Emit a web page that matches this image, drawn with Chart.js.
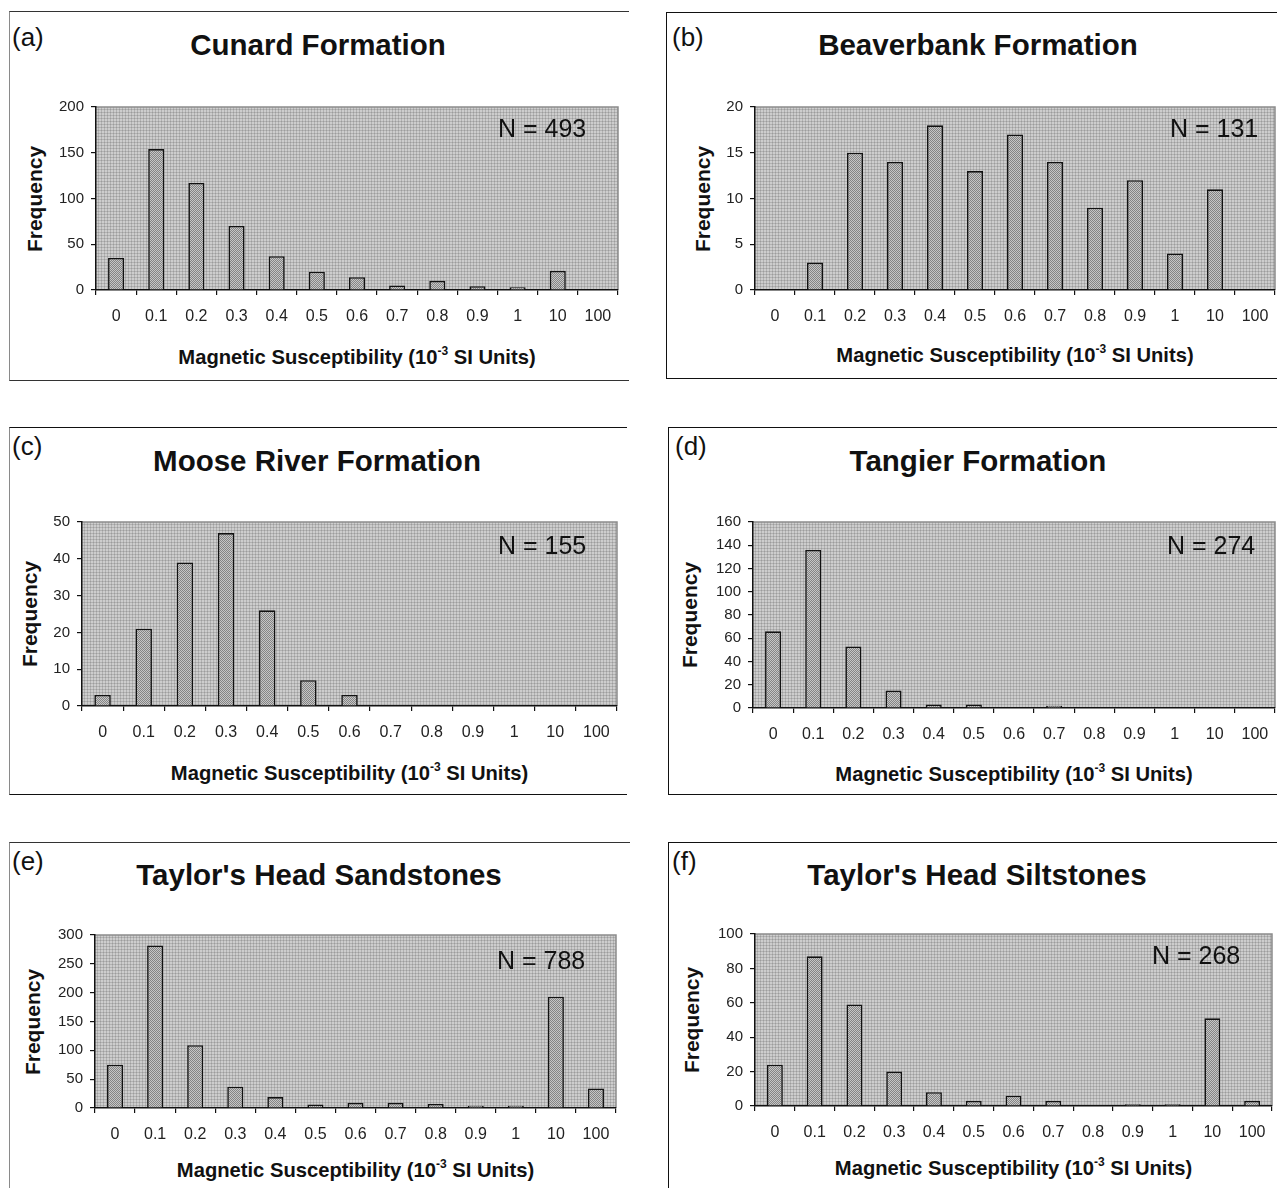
<!DOCTYPE html>
<html>
<head>
<meta charset="utf-8">
<script src="https://cdn.jsdelivr.net/npm/chart.js@4.4.1/dist/chart.umd.min.js"></script>
<style>
  html, body { margin: 0; padding: 0; background: #fff; }
  body { width: 1277px; height: 1188px; position: relative; overflow: hidden; font-family: "Liberation Sans", Arial, sans-serif; color: #111; }
  .box { position: absolute; box-sizing: border-box; }
  .abs { position: absolute; white-space: nowrap; }
  .ctr { transform: translate(-50%, -50%); }
  .tag { font-size: 26px; transform: translateY(-50%); }
  .title { font-size: 29.5px; font-weight: bold; }
  .nlab { font-size: 25px; transform: translateY(-50%); }
  .xt { font-size: 20.2px; font-weight: bold; }
  .xt sup { font-size: 12px; vertical-align: 0; position: relative; top: -9px; }
  .yt { font-size: 21px; font-weight: bold; transform: translate(-50%, -50%) rotate(-90deg); }
  canvas { position: absolute; }
</style>
</head>
<body>
<script>
// ---- data ----
const categories = ['0', '0.1', '0.2', '0.3', '0.4', '0.5', '0.6', '0.7', '0.8', '0.9', '1', '10', '100'];
const cunard      = [35, 154, 117, 70, 37, 20, 14, 5, 10, 4, 3, 21, 0];
const beaverbank  = [0, 3, 15, 14, 18, 13, 17, 14, 9, 12, 4, 11, 0];
const mooseRiver  = [3, 21, 39, 47, 26, 7, 3, 0, 0, 0, 0, 0, 0];
const tangier     = [66, 136, 53, 15, 3, 3, 0, 2, 0, 0, 0, 0, 0];
const sandstones  = [75, 282, 109, 37, 19, 6, 9, 9, 7, 4, 4, 193, 34];
const siltstones  = [24, 87, 59, 20, 8, 3, 6, 3, 0, 1, 1, 51, 3];
const panelTags   = ['(a)', '(b)', '(c)', '(d)', '(e)', '(f)'];
const panelTitles = ['Cunard Formation', 'Beaverbank Formation', 'Moose River Formation', 'Tangier Formation', "Taylor's Head Sandstones", "Taylor's Head Siltstones"];
const sampleCounts = ['N = 493', 'N = 131', 'N = 155', 'N = 274', 'N = 788', 'N = 268'];
const yMaxes = [200, 20, 50, 160, 300, 100];
const ySteps = [50, 5, 10, 20, 50, 20];
const seriesList = [cunard, beaverbank, mooseRiver, tangier, sandstones, siltstones];
const yTitle = 'Frequency';
const xTitleMain = 'Magnetic Susceptibility (10';
const xTitleSup = '-3';
const xTitleEnd = ' SI Units)';

// ---- layout (page coordinates) ----
const boxes = [
  {l: 9,   t: 11,  w: 620, h: 370, lc: '#8a8a8a', tc: '#333', bc: '#333', bottom: true},
  {l: 666, t: 12,  w: 620, h: 367, lc: '#111', tc: '#111', bc: '#111', bottom: true},
  {l: 9,   t: 427, w: 618, h: 368, lc: '#8a8a8a', tc: '#111', bc: '#111', bottom: true},
  {l: 668, t: 427, w: 620, h: 368, lc: '#111', tc: '#111', bc: '#111', bottom: true},
  {l: 9,   t: 842, w: 621, h: 400, lc: '#8a8a8a', tc: '#333', bc: '#333', bottom: false},
  {l: 668, t: 842, w: 620, h: 400, lc: '#111', tc: '#111', bc: '#111', bottom: false}
];
const plots = [
  {l: 96,  r: 618,  t: 107, b: 290},
  {l: 755, r: 1275, t: 107, b: 290},
  {l: 82,  r: 617,  t: 522, b: 706},
  {l: 753, r: 1275, t: 522, b: 708},
  {l: 95,  r: 616,  t: 935, b: 1108},
  {l: 755, r: 1272, t: 934, b: 1106}
];
const tagPos = [{x: 12, y: 37}, {x: 672, y: 37}, {x: 12, y: 446}, {x: 675, y: 446}, {x: 12, y: 861}, {x: 672, y: 861}];
const titlePos = [{x: 318, y: 45}, {x: 978, y: 45}, {x: 317, y: 461}, {x: 978, y: 461}, {x: 319, y: 875}, {x: 977, y: 875}];
const nPos = [{x: 498, y: 128}, {x: 1170, y: 128}, {x: 498, y: 545}, {x: 1167, y: 545}, {x: 497, y: 960}, {x: 1152, y: 955}];
const xTitleY = [357, 355, 773, 774, 1170, 1168];
const yTitleX = [35, 703, 30, 690, 33, 692];

function el(tag, cls, css, html) {
  const e = document.createElement(tag);
  if (cls) e.className = cls;
  Object.assign(e.style, css || {});
  if (html !== undefined) e.innerHTML = html;
  document.body.appendChild(e);
  return e;
}

function makePattern(size, fn) {
  const c = document.createElement('canvas');
  c.width = size; c.height = size;
  const x = c.getContext('2d');
  for (let i = 0; i < size; i++) for (let j = 0; j < size; j++) {
    x.fillStyle = fn(i, j);
    x.fillRect(i, j, 1, 1);
  }
  return x.createPattern(c, 'repeat');
}

const bgPattern = makePattern(3, (i, j) => (i === 0 && j === 0) ? '#9c9c9c' : (i === 0 || j === 0) ? '#b2b2b2' : '#cdcdcd');
const barPattern = makePattern(2, (i, j) => ((i + j) % 2 === 0) ? '#858585' : '#c6c6c6');

const plotBg = {
  id: 'plotBg',
  beforeDraw(chart) {
    const a = chart.chartArea, ctx = chart.ctx;
    ctx.save();
    ctx.fillStyle = bgPattern;
    ctx.fillRect(a.left, a.top, a.right - a.left, a.bottom - a.top);
    ctx.strokeStyle = '#8c8c8c';
    ctx.lineWidth = 1.5;
    ctx.beginPath();
    ctx.moveTo(a.left, a.top); ctx.lineTo(a.right, a.top); ctx.lineTo(a.right, a.bottom);
    ctx.stroke();
    ctx.restore();
  }
};

const PAD_L = 70, PAD_T = 12, PAD_R = 6, AX_H = 44;
const FONT = '"Liberation Sans", Arial, sans-serif';

for (let k = 0; k < 6; k++) {
  const bx = boxes[k];
  el('div', 'box', {
    left: bx.l + 'px', top: bx.t + 'px', width: bx.w + 'px', height: bx.h + 'px',
    borderLeft: '1.5px solid ' + bx.lc, borderTop: '1.5px solid ' + bx.tc,
    borderBottom: bx.bottom ? '1.5px solid ' + bx.bc : 'none'
  });
  el('div', 'abs tag', {left: tagPos[k].x + 'px', top: tagPos[k].y + 'px'}, panelTags[k]);
  el('div', 'abs ctr title', {left: titlePos[k].x + 'px', top: titlePos[k].y + 'px'}, panelTitles[k]);
  const p = plots[k];
  el('div', 'abs ctr xt', {left: ((p.l + p.r) / 2) + 'px', top: xTitleY[k] + 'px'},
     xTitleMain + '<sup>' + xTitleSup + '</sup>' + xTitleEnd);
  el('div', 'abs yt', {left: yTitleX[k] + 'px', top: ((p.t + p.b) / 2) + 'px'}, yTitle);

  const cv = document.createElement('canvas');
  const W = p.r - p.l + PAD_L + PAD_R, H = p.b - p.t + PAD_T + AX_H;
  cv.width = W; cv.height = H;
  cv.style.width = W + 'px'; cv.style.height = H + 'px';
  document.body.appendChild(cv);

  const chart = new Chart(cv.getContext('2d'), {
    type: 'bar',
    data: {
      labels: categories,
      datasets: [{
        data: seriesList[k],
        backgroundColor: barPattern,
        borderColor: '#111',
        borderWidth: 1.6,
        borderSkipped: 'start',
        barPercentage: 0.4,
        categoryPercentage: 1.0
      }]
    },
    options: {
      responsive: false,
      maintainAspectRatio: false,
      animation: false,
      devicePixelRatio: 1,
      layout: {padding: {left: 0, top: PAD_T, right: PAD_R, bottom: 0}},
      plugins: {legend: {display: false}, tooltip: {enabled: false}, title: {display: false}},
      scales: {
        x: {
          offset: true,
          grid: {display: true, offset: true, drawOnChartArea: false, drawTicks: true, tickLength: 5, color: '#111', lineWidth: 1.2},
          border: {display: true, color: '#111', width: 1.5},
          ticks: {color: '#222', font: {family: FONT, size: 16}, padding: 12, maxRotation: 0, autoSkip: false},
          afterFit(s) { s.height = AX_H; }
        },
        y: {
          min: 0, max: yMaxes[k],
          grid: {display: true, drawOnChartArea: false, drawTicks: true, tickLength: 5, color: '#111', lineWidth: 1.2},
          border: {display: true, color: '#111', width: 1.5},
          ticks: {stepSize: ySteps[k], color: '#222', font: {family: FONT, size: 15}, padding: 7},
          afterFit(s) { s.width = PAD_L; }
        }
      }
    },
    plugins: [plotBg]
  });

  // adjust canvas so the chart area lands exactly on the target plot rectangle
  let ca = chart.chartArea;
  const nW = Math.round(W + (p.r - p.l) - (ca.right - ca.left));
  const nH = Math.round(H + (p.b - p.t) - (ca.bottom - ca.top));
  if (nW !== W || nH !== H) {
    chart.resize(nW, nH);
    ca = chart.chartArea;
  }
  cv.style.left = (p.l - ca.left) + 'px';
  cv.style.top = (p.t - ca.top) + 'px';

  el('div', 'abs nlab', {left: nPos[k].x + 'px', top: nPos[k].y + 'px'}, sampleCounts[k]);
}
</script>
</body>
</html>
